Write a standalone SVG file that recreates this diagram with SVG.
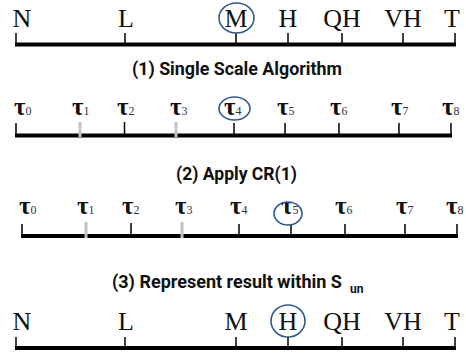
<svg xmlns="http://www.w3.org/2000/svg" width="466" height="354" viewBox="0 0 466 354">
<style>
.axis{stroke:#000;stroke-width:4;fill:none}
.tick{stroke:#000;stroke-width:1.5}
.gtick{stroke:#c4c4c4;stroke-width:3}
.lab{font-family:"Liberation Serif","Times New Roman",serif;font-size:26px;fill:#111;text-anchor:middle}
.tau{font-family:"Liberation Serif","Times New Roman",serif;font-size:25px;font-weight:bold;fill:#111}
.sub{font-size:12px;font-weight:normal;fill:#333}
.title{font-family:Roboto,"Open Sans","Liberation Sans",sans-serif;font-size:18px;font-weight:bold;fill:#111}
.tsub{font-family:Roboto,"Open Sans","Liberation Sans",sans-serif;font-size:12px;font-weight:bold;fill:#111}
.ring{fill:none;stroke:#2f5a8c;stroke-width:1.6}
</style>
<rect width="466" height="354" fill="#fff"/>

<g id="scale1">
<line class="axis" x1="15" y1="44.5" x2="456" y2="44.5"/>
<g class="ticks">
<line class="tick" x1="16" y1="33" x2="16" y2="44"/>
<line class="tick" x1="125" y1="33" x2="125" y2="44"/>
<line class="tick" x1="236" y1="33" x2="236" y2="44"/>
<line class="tick" x1="288" y1="33" x2="288" y2="44"/>
<line class="tick" x1="342" y1="33" x2="342" y2="44"/>
<line class="tick" x1="403" y1="33" x2="403" y2="44"/>
<line class="tick" x1="455" y1="33" x2="455" y2="44"/>
</g>
<text class="lab" x="22" y="27">N</text>
<text class="lab" x="126" y="27">L</text>
<text class="lab" x="236" y="27">M</text>
<text class="lab" x="288" y="27">H</text>
<text class="lab" x="342" y="27">QH</text>
<text class="lab" x="403" y="27">VH</text>
<text class="lab" x="452" y="27">T</text>
<ellipse class="ring" cx="236.5" cy="18" rx="17.5" ry="15"/>
</g>

<g id="title1"><text class="title" x="132" y="75" textLength="210" lengthAdjust="spacingAndGlyphs">(1) Single Scale Algorithm</text></g>

<g id="scale2">
<line class="axis" x1="15" y1="135.5" x2="452" y2="135.5"/>
<line class="tick" x1="16" y1="123" x2="16" y2="135"/>
<line class="gtick" x1="80" y1="122" x2="80" y2="137"/>
<line class="tick" x1="124.5" y1="122" x2="124.5" y2="135"/>
<line class="gtick" x1="176" y1="122" x2="176" y2="137"/>
<line class="tick" x1="234" y1="123" x2="234" y2="135"/>
<line class="tick" x1="285" y1="123" x2="285" y2="135"/>
<line class="tick" x1="339" y1="123" x2="339" y2="135"/>
<line class="tick" x1="399" y1="123" x2="399" y2="135"/>
<line class="tick" x1="451" y1="123" x2="451" y2="135"/>
<text class="tau" x="14" y="115">τ<tspan class="sub">0</tspan></text>
<text class="tau" x="72" y="115">τ<tspan class="sub">1</tspan></text>
<text class="tau" x="117" y="115">τ<tspan class="sub">2</tspan></text>
<text class="tau" x="170" y="115">τ<tspan class="sub">3</tspan></text>
<text class="tau" x="224" y="115">τ<tspan class="sub">4</tspan></text>
<text class="tau" x="277" y="115">τ<tspan class="sub">5</tspan></text>
<text class="tau" x="330" y="115">τ<tspan class="sub">6</tspan></text>
<text class="tau" x="391" y="115">τ<tspan class="sub">7</tspan></text>
<text class="tau" x="442" y="115">τ<tspan class="sub">8</tspan></text>
<ellipse class="ring" cx="234.5" cy="108.5" rx="15.5" ry="11.5"/>
</g>

<g id="title2"><text class="title" x="176" y="180" textLength="121" lengthAdjust="spacingAndGlyphs">(2) Apply CR(1)</text></g>

<g id="scale3">
<line class="axis" x1="21" y1="236" x2="458" y2="236"/>
<line class="tick" x1="22" y1="224" x2="22" y2="236"/>
<line class="gtick" x1="86" y1="222" x2="86" y2="238"/>
<line class="tick" x1="131" y1="223" x2="131" y2="236"/>
<line class="gtick" x1="182" y1="222" x2="182" y2="238"/>
<line class="tick" x1="239" y1="224" x2="239" y2="236"/>
<line class="tick" x1="291" y1="224" x2="291" y2="236"/>
<line class="tick" x1="345" y1="224" x2="345" y2="236"/>
<line class="tick" x1="405" y1="224" x2="405" y2="236"/>
<line class="tick" x1="457" y1="224" x2="457" y2="236"/>
<text class="tau" x="19" y="214">τ<tspan class="sub">0</tspan></text>
<text class="tau" x="77" y="214">τ<tspan class="sub">1</tspan></text>
<text class="tau" x="122" y="214">τ<tspan class="sub">2</tspan></text>
<text class="tau" x="175" y="214">τ<tspan class="sub">3</tspan></text>
<text class="tau" x="230" y="214">τ<tspan class="sub">4</tspan></text>
<text class="tau" x="281" y="214">τ<tspan class="sub">5</tspan></text>
<text class="tau" x="335" y="214">τ<tspan class="sub">6</tspan></text>
<text class="tau" x="396" y="214">τ<tspan class="sub">7</tspan></text>
<text class="tau" x="446" y="214">τ<tspan class="sub">8</tspan></text>
<ellipse class="ring" cx="288" cy="213.5" rx="14" ry="11.5"/>
</g>

<g id="title3">
<text class="title" x="112" y="288">(3) Represent result within S</text>
<text class="tsub" x="350" y="293">un</text>
</g>

<g id="scale4">
<line class="axis" x1="15" y1="348" x2="456" y2="348"/>
<line class="tick" x1="16" y1="337" x2="16" y2="348"/>
<line class="tick" x1="125" y1="337" x2="125" y2="348"/>
<line class="tick" x1="236" y1="337" x2="236" y2="348"/>
<line class="tick" x1="288" y1="337" x2="288" y2="348"/>
<line class="tick" x1="342" y1="337" x2="342" y2="348"/>
<line class="tick" x1="403" y1="337" x2="403" y2="348"/>
<line class="tick" x1="455" y1="337" x2="455" y2="348"/>
<text class="lab" x="22" y="330">N</text>
<text class="lab" x="126" y="330">L</text>
<text class="lab" x="236" y="330">M</text>
<text class="lab" x="288" y="330">H</text>
<text class="lab" x="342" y="330">QH</text>
<text class="lab" x="403" y="330">VH</text>
<text class="lab" x="452" y="330">T</text>
<ellipse class="ring" cx="288" cy="321" rx="17" ry="16"/>
</g>
</svg>
